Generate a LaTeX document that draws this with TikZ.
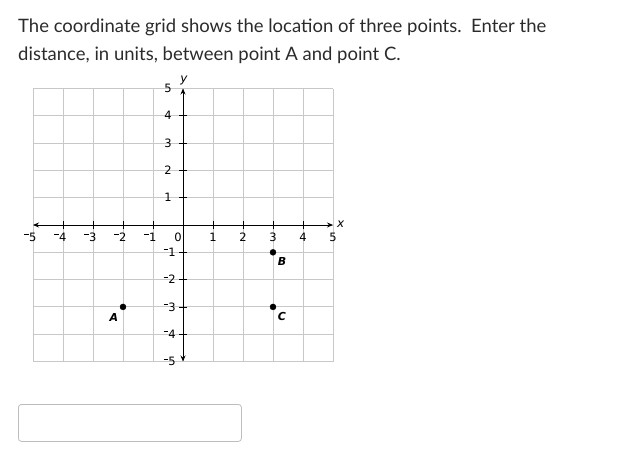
\documentclass[tikz,border=0pt]{standalone}
\usepackage{fontspec}
\setmainfont{Lato}
\newfontfamily\gridfont{DejaVu Sans}
\usetikzlibrary{arrows.meta, calc, positioning}
\definecolor{textgray}{HTML}{2B2B2B}
\definecolor{gridgray}{HTML}{C8C8C8}
\definecolor{boxgray}{HTML}{BDBDBD}
\newcommand{\neglab}[1]{\raisebox{6.3pt}{\rule{4.2pt}{0.75pt}}\hspace{0.6pt}#1}
\tikzset{
    textnode/.style = {draw=none, fill=none, inner sep=0pt, anchor=base west, align=left,
      text=textgray, font=\fontsize{18.5}{28}\selectfont},
    gridline/.style = {draw=gridgray, line width=0.9pt},
    axisline/.style = {draw=black, line width=0.9pt, {Stealth[length=6pt, width=5pt]}-{Stealth[length=6pt, width=5pt]}},
    ticknode/.style = {draw=none, inner sep=0pt, font=\gridfont\fontsize{11.5}{11.5}\selectfont},
    dotnode/.style = {draw, fill=black, circle, minimum size=6pt, inner sep=0pt},
    ptlabel/.style = {draw=none, inner sep=0pt, font=\gridfont\fontsize{11}{11}\selectfont\bfseries\itshape},
    axislabel/.style = {draw=none, inner sep=0pt, font=\gridfont\fontsize{12}{12}\selectfont\itshape},
    answerbox/.style = {draw=boxgray, line width=0.8pt, rounded corners=3pt, fill=white}
}
\begin{document}
\begin{tikzpicture}[x=1pt, y=1pt]
    \useasboundingbox (0,0) rectangle (631,-455);
    \node [name=line1, textnode] at (18,-32)
        {The coordinate grid shows the location of three points.\ \ Enter the};
    \node [name=line2, textnode] at (18,-60)
        {distance, in units, between point A and point C.};

    \begin{scope}[shift={(183,-225)}, x=30pt, y=27.3pt]
        \foreach \i in {-5,...,5} {
            \draw [gridline] (\i,-5) -- (\i,5);
            \draw [gridline] (-5,\i) -- (5,\i);
        }
        \coordinate (xleft) at (-5,0);
        \coordinate (xright) at (5,0);
        \coordinate (ybottom) at (0,-5);
        \coordinate (ytop) at (0,5);
        \draw [axisline] (xleft) -- (xright);
        \draw [axisline] (ybottom) -- (ytop);
        \foreach \i in {-4,...,4} {
            \draw [line width=0.8pt] (\i,0) ++(0,-4pt) -- ++(0,8pt);
            \draw [line width=0.8pt] (0,\i) ++(-4pt,0) -- ++(8pt,0);
        }
        \foreach \i in {1,...,5} {
            \node [name=xpos\i, ticknode] at (\i,-12pt) {\i};
            \node [name=xneg\i, ticknode, anchor=east] at ($(-\i,-12pt)+(3.7pt,0)$) {\neglab{\i}};
            \node [name=ypos\i, ticknode, anchor=east] at (-11pt,\i) {\i};
            \node [name=yneg\i, ticknode, anchor=east] at (-7pt,-\i) {\neglab{\i}};
        }
        \node [name=zero, ticknode] at (-5pt,-12pt) {0};
        \node [name=xlab, axislabel, right=4pt of xright, yshift=1pt] {x};
        \node [name=ylab, axislabel, above=3pt of ytop, xshift=1pt] {y};

        \node [name=A, dotnode] at (-2,-3) {};
        \node [name=B, dotnode] at (3,-1) {};
        \node [name=C, dotnode] at (3,-3) {};
        \node [name=Alab, ptlabel] at ($(A)+(-9pt,-11pt)$) {A};
        \node [name=Blab, ptlabel] at ($(B)+(9pt,-9pt)$) {B};
        \node [name=Clab, ptlabel] at ($(C)+(9pt,-10pt)$) {C};
    \end{scope}

    \node [name=answer, answerbox, minimum width=223pt, minimum height=37pt, anchor=north west]
        at (18,-404) {};
\end{tikzpicture}
\end{document}
